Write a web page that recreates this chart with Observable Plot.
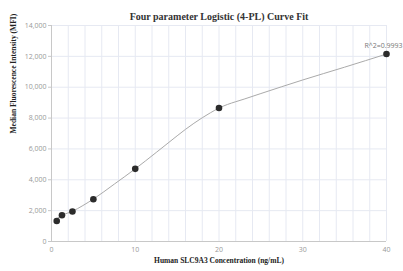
<!DOCTYPE html>
<html><head><meta charset="utf-8">
<script src="https://cdn.jsdelivr.net/npm/d3@7"></script>
<script src="https://cdn.jsdelivr.net/npm/@observablehq/plot@0.6"></script>
<style>body{margin:0;background:#fff}</style>
</head><body><div id="chart"></div>
<script>
const conc = [0.625, 1.25, 2.5, 5, 10, 20, 40];
const mfi = [1330, 1700, 1940, 2740, 4710, 8650, 12150];
const fitConc = [0.625, 1.25, 2.5, 3.75, 5, 7.5, 10, 12.5, 15, 16, 18, 19, 20, 21, 22, 23, 25, 30, 35, 40];
const fitMfi = [1480, 1690, 1960, 2330, 2750, 3720, 4710, 5770, 6850, 7270, 8020, 8350, 8650, 8880, 9060, 9230, 9590, 10470, 11300, 12150];
const xTicks = [0, 10, 20, 30, 40];
const xGrid = [0,2,4,6,8,10,12,14,16,18,20,22,24,26,28,30,32,34,36,38,40];
const yTicks = [0, 2000, 4000, 6000, 8000, 10000, 12000, 14000];
const title = "Four parameter Logistic (4-PL) Curve Fit";
const xLabel = "Human SLC9A3 Concentration (ng/mL)";
const yLabel = "Median Fluorescence Intensity (MFI)";
const r2Label = "R^2=0.9993";

const points = conc.map((c, i) => ({c, v: mfi[i]}));
const fit = fitConc.map((c, i) => ({c, v: fitMfi[i]}));
const serif = "'Liberation Serif', 'Times New Roman', serif";
const sans = "'Open Sans', 'DejaVu Sans', sans-serif";

const chart = Plot.plot({
  width: 403, height: 271,
  marginLeft: 51, marginRight: 17, marginTop: 25, marginBottom: 30,
  style: {fontFamily: sans, fontSize: "7px", color: "#888", background: "#fff"},
  x: {domain: [0, 40]},
  y: {domain: [0, 14000]},
  marks: [
    Plot.gridX(xGrid, {stroke: "#e6e9f2", strokeOpacity: 1}),
    Plot.gridY(yTicks, {stroke: "#e6e9f2", strokeOpacity: 1}),
    Plot.ruleX([0], {stroke: "#c8c8c8"}),
    Plot.ruleY([0], {stroke: "#c8c8c8"}),
    Plot.axisX(xTicks, {tickSize: 0, tickPadding: 6, label: null, fill: "#999"}),
    Plot.axisY(yTicks, {tickSize: 3, tickPadding: 2, label: null, fill: "#999", stroke: "#c8c8c8", tickFormat: d3.format(",")}),
    Plot.line(fit, {x: "c", y: "v", curve: "monotone-x", stroke: "#aaa", strokeWidth: 1}),
    Plot.dot(points, {x: "c", y: "v", r: 3.3, fill: "#2b2b2b", stroke: "none"}),
    Plot.text([r2Label], {x: conc[conc.length-1], y: mfi[mfi.length-1], text: d => d, dy: -8, dx: -3, fill: "#777", fontSize: 7}),
    Plot.text([title], {frameAnchor: "top", dy: -13, text: d => d, fontFamily: serif, fontWeight: "bold", fontSize: 10, fill: "#333"}),
    Plot.text([xLabel], {frameAnchor: "bottom", dy: 21, text: d => d, fontFamily: serif, fontWeight: "bold", fontSize: 7.5, fill: "#222"}),
    Plot.text([yLabel], {frameAnchor: "left", dx: -38, rotate: -90, text: d => d, fontFamily: serif, fontWeight: "bold", fontSize: 7.5, fill: "#222"})
  ]
});
document.getElementById("chart").appendChild(chart);
</script>
</body></html>
